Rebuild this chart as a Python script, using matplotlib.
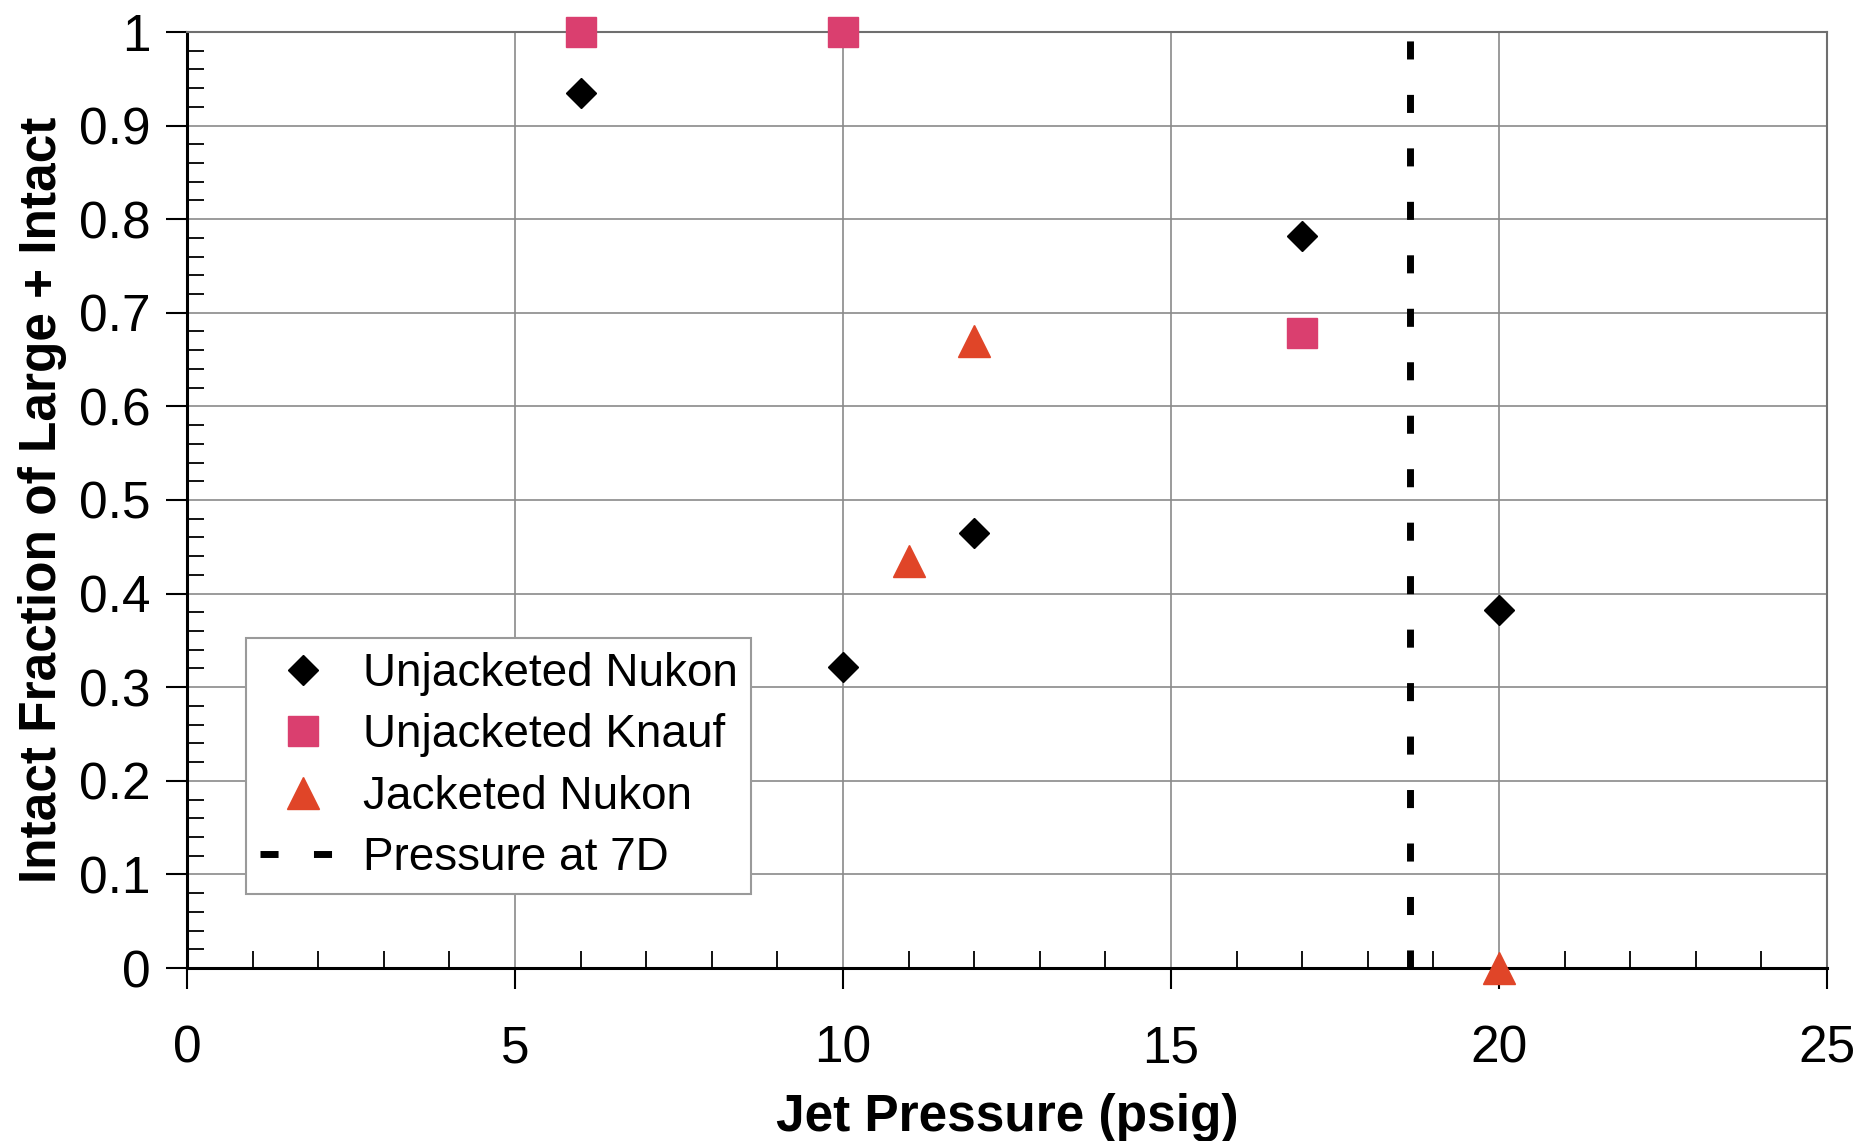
import matplotlib
matplotlib.use("Agg")
import matplotlib.pyplot as plt
from matplotlib.ticker import MultipleLocator

plt.rcParams['font.family'] = ['Liberation Sans', 'DejaVu Sans']

# data
nukon_x = [6, 10, 12, 17, 20]
nukon_y = [0.935, 0.322, 0.465, 0.782, 0.382]
knauf_x = [6, 10, 17]
knauf_y = [1.0, 1.0, 0.678]
jacketed_x = [11, 12, 20]
jacketed_y = [0.435, 0.670, 0.0]
pressure_7d = 18.65

fig = plt.figure(figsize=(18.64, 11.41), dpi=100)
ax = fig.add_axes([0.1003, 0.1516, 0.8798, 0.8204])

ax.plot(nukon_x, nukon_y, linestyle='none', marker='D', ms=15, color='black',
        label='Unjacketed Nukon', zorder=5, clip_on=False)
ax.plot(knauf_x, knauf_y, linestyle='none', marker='s', ms=22, color='#DA3F6F',
        label='Unjacketed Knauf', zorder=5, clip_on=False)
ax.plot(jacketed_x, jacketed_y, linestyle='none', marker='^', ms=23, color='#E04528',
        label='Jacketed Nukon', zorder=5, clip_on=False)
vline = ax.axvline(pressure_7d, color='black', lw=5, label='Pressure at 7D', zorder=4)
vline.set_dashes([2.6, 5.1])

ax.set_xlim(0, 25)
ax.set_ylim(0, 1)
ax.xaxis.set_major_locator(MultipleLocator(5))
ax.xaxis.set_minor_locator(MultipleLocator(1))
ax.yaxis.set_minor_locator(MultipleLocator(0.02))
ax.set_yticks([v / 10 for v in range(11)])
ax.set_yticklabels(['0'] + ['%.1f' % (v / 10) for v in range(1, 10)] + ['1'])

ax.grid(True, which='major', color='#8a8a8a', lw=1.2)
ax.set_axisbelow(True)

ax.tick_params(which='major', direction='out', length=15, width=1.5, labelsize=37, pad=11)
ax.tick_params(axis='x', which='major', pad=26)
ax.tick_params(which='minor', direction='in', length=12, width=1.3)

for s in ['left', 'bottom']:
    ax.spines[s].set_linewidth(2.2)
    ax.spines[s].set_color('black')
for s in ['top', 'right']:
    ax.spines[s].set_linewidth(1.5)
    ax.spines[s].set_color('#6f6f6f')

ax.set_xlabel('Jet Pressure (psig)', fontsize=37, fontweight='bold', labelpad=14)
ax.set_ylabel('Intact Fraction of Large + Intact', fontsize=37, fontweight='bold', labelpad=9)

leg = ax.legend(loc='lower left', bbox_to_anchor=(0.036, 0.079), borderaxespad=0,
                fontsize=33, fancybox=False, framealpha=1, edgecolor='#9a9a9a',
                labelspacing=0.38, handlelength=1.9, handletextpad=0.35,
                borderpad=0.3, numpoints=1)
leg.get_frame().set_linewidth(1.5)

plt.savefig('out.png', dpi=100)
